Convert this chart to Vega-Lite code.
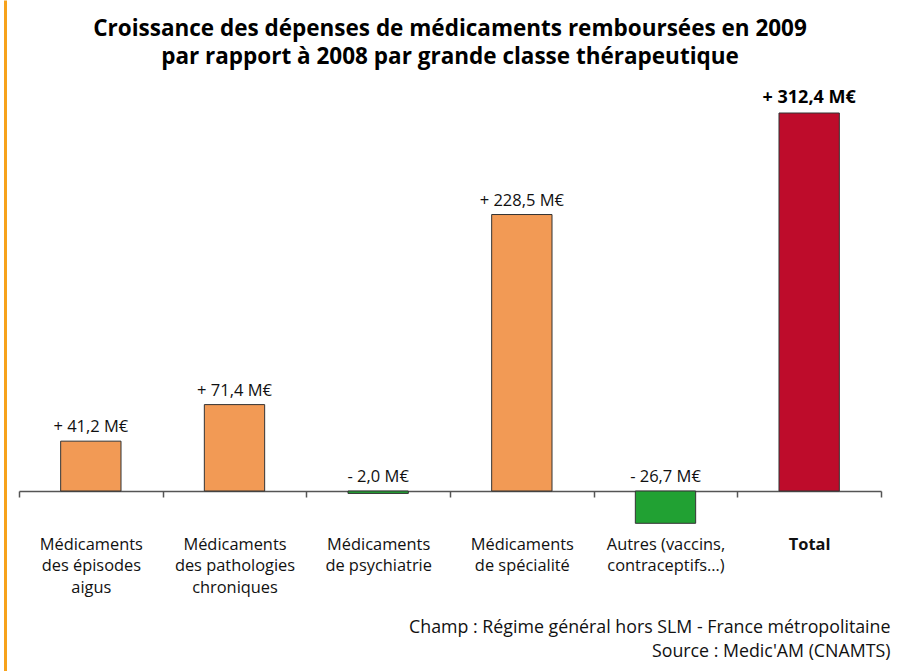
{
  "$schema": "https://vega.github.io/schema/vega-lite/v6.json",
  "width": 862,
  "height": 671,
  "autosize": {"type": "none"},
  "padding": {"left": 19, "top": 0, "right": 17, "bottom": 0},
  "background": "white",
  "config": {"view": {"stroke": null}},
  "title": {
    "text": ["Croissance des dépenses de médicaments remboursées en 2009", "par rapport à 2008 par grande classe thérapeutique"],
    "font": "Open Sans",
    "fontSize": 22.5,
    "fontWeight": "bold",
    "color": "#000000",
    "anchor": "middle",
    "offset": -68,
    "lineHeight": 28
  },
  "data": {
    "values": [
      {"categorie": "Médicaments des épisodes aigus", "valeur": 41.2, "type": "hausse", "label": "+ 41,2 M€"},
      {"categorie": "Médicaments des pathologies chroniques", "valeur": 71.4, "type": "hausse", "label": "+ 71,4 M€"},
      {"categorie": "Médicaments de psychiatrie", "valeur": -2.0, "type": "baisse", "label": "- 2,0 M€"},
      {"categorie": "Médicaments de spécialité", "valeur": 228.5, "type": "hausse", "label": "+ 228,5 M€"},
      {"categorie": "Autres (vaccins, contraceptifs…)", "valeur": -26.7, "type": "baisse", "label": "- 26,7 M€"},
      {"categorie": "Total", "valeur": 312.4, "type": "total", "label": "+ 312,4 M€"}
    ]
  },
  "encoding": {
    "x": {
      "field": "categorie",
      "type": "nominal",
      "sort": null,
      "scale": {"paddingInner": 0, "paddingOuter": 0},
      "axis": {
        "orient": "bottom",
        "offset": -180,
        "domainColor": "#555555",
        "domainWidth": 1.5,
        "tickColor": "#555555",
        "tickWidth": 1.5,
        "tickSize": 6,
        "tickBand": "extent",
        "labelAngle": 0,
        "labelFont": "Open Sans",
        "labelFontSize": 16.4,
        "labelColor": "#111111",
        "labelPadding": 39,
        "labelLineHeight": 21.5,
        "labelBaseline": "top",
        "labelFontWeight": {"condition": {"test": "datum.value == 'Total'", "value": "bold"}, "value": "normal"},
        "labelExpr": "datum.value == 'Médicaments des épisodes aigus' ? ['Médicaments', 'des épisodes', 'aigus'] : datum.value == 'Médicaments des pathologies chroniques' ? ['Médicaments', 'des pathologies', 'chroniques'] : datum.value == 'Médicaments de psychiatrie' ? ['Médicaments', 'de psychiatrie'] : datum.value == 'Médicaments de spécialité' ? ['Médicaments', 'de spécialité'] : datum.value == 'Autres (vaccins, contraceptifs…)' ? ['Autres (vaccins,', 'contraceptifs…)'] : datum.value",
        "title": ["Champ : Régime général hors SLM - France métropolitaine", "Source : Medic'AM (CNAMTS)"],
        "titleFont": "Open Sans",
        "titleFontSize": 17.8,
        "titleFontWeight": "normal",
        "titleColor": "#111111",
        "titleAlign": "right",
        "titleAnchor": "end",
        "titleX": 871,
        "titleY": 127,
        "titleLineHeight": 24,
        "titleBaseline": "top"
      }
    },
    "y": {
      "field": "valeur",
      "type": "quantitative",
      "scale": {"domain": [-148.76, 405.79], "nice": false, "zero": false},
      "axis": {
        "orient": "left",
        "offset": 14,
        "domainColor": "#F7A21B",
        "domainWidth": 3,
        "ticks": false,
        "labels": false,
        "grid": false,
        "title": null
      }
    }
  },
  "layer": [
    {
      "mark": {"type": "bar", "stroke": "#333333", "strokeWidth": 1, "width": {"band": 0.42}},
      "encoding": {
        "color": {
          "field": "type",
          "type": "nominal",
          "scale": {"domain": ["hausse", "baisse", "total"], "range": ["#F29A55", "#21A133", "#BE0C2B"]},
          "legend": null
        }
      }
    },
    {
      "transform": [{"filter": "datum.type == 'hausse'"}],
      "mark": {"type": "text", "baseline": "bottom", "dy": -6, "font": "Open Sans", "fontSize": 16.5, "color": "#111111"},
      "encoding": {"text": {"field": "label"}}
    },
    {
      "transform": [{"filter": "datum.type == 'total'"}],
      "mark": {"type": "text", "baseline": "bottom", "dy": -6, "font": "Open Sans", "fontSize": 18, "fontWeight": "bold", "color": "#000000"},
      "encoding": {"text": {"field": "label"}}
    },
    {
      "transform": [{"filter": "datum.type == 'baisse'"}],
      "mark": {"type": "text", "baseline": "bottom", "dy": -6, "font": "Open Sans", "fontSize": 16.5, "color": "#111111"},
      "encoding": {"y": {"datum": 0}, "text": {"field": "label"}}
    }
  ]
}
